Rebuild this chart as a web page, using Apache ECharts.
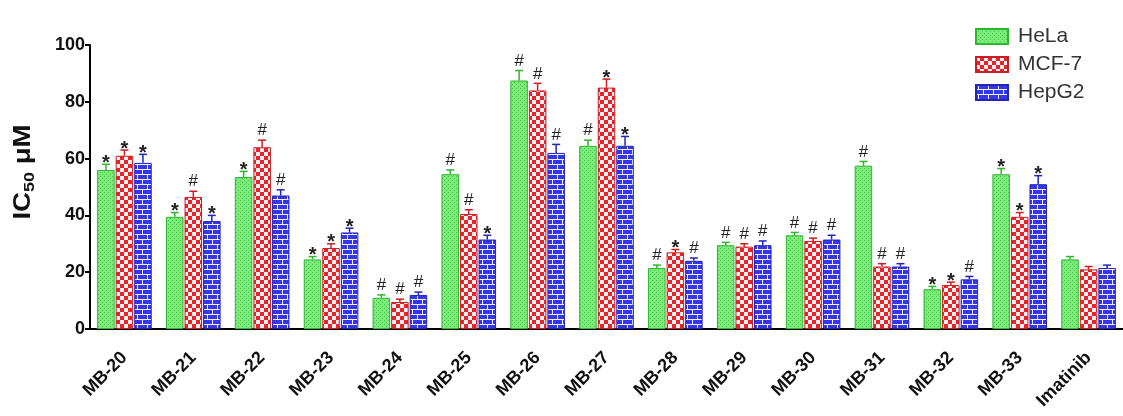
<!DOCTYPE html>
<html>
<head>
<meta charset="utf-8">
<script src="https://cdn.jsdelivr.net/npm/echarts@6/dist/echarts.min.js"></script>
<style>
  html, body { margin: 0; padding: 0; background: #fff; }
  #chart { width: 1123px; height: 416px; }
</style>
</head>
<body>
<div id="chart"></div>
<script>
// Compounds tested
const categories = ['MB-20', 'MB-21', 'MB-22', 'MB-23', 'MB-24', 'MB-25', 'MB-26', 'MB-27',
  'MB-28', 'MB-29', 'MB-30', 'MB-31', 'MB-32', 'MB-33', 'Imatinib'];

// IC50 (µM) per cell line
const helaValues  = [56, 39.5, 53.5, 24.5, 11, 54.5, 87.5, 64.5, 21.5, 29.5, 33, 57.5, 14, 54.5, 24.5];
const mcf7Values  = [61, 46.5, 64, 28.5, 9.5, 40.5, 84, 85, 27, 29, 31, 22, 15.5, 39.5, 21];
const hepg2Values = [58.5, 38, 47, 34, 12, 31.5, 62, 64.5, 24, 29.5, 31.5, 22, 17.5, 51, 21.5];

// Standard deviations
const helaErr  = [2, 1.5, 2, 1, 1, 1.5, 3.5, 2, 1, 1, 1, 1.5, 1, 2, 1];
const mcf7Err  = [2, 2, 2.5, 1.5, 1, 1.5, 2.5, 3, 1, 1, 1, 1, 1, 1.5, 1];
const hepg2Err = [3, 2, 2, 1.5, 1, 1.5, 3, 3.3, 1, 1.5, 1.5, 1, 1, 3, 1];

// Significance marks
const helaMarks  = ['*', '*', '*', '*', '#', '#', '#', '#', '#', '#', '#', '#', '*', '*', ''];
const mcf7Marks  = ['*', '#', '#', '*', '#', '#', '#', '*', '*', '#', '#', '#', '*', '*', ''];
const hepg2Marks = ['*', '*', '#', '*', '#', '*', '#', '*', '#', '#', '#', '#', '#', '*', ''];

const seriesNames = ['HeLa', 'MCF-7', 'HepG2'];
const yTicks = { min: 0, max: 100, interval: 20 };

const FONT = '"Liberation Sans", Arial, Helvetica, sans-serif';

// ---- fill patterns -------------------------------------------------------
function makeTile(w, h, draw) {
  const c = document.createElement('canvas');
  c.width = w; c.height = h;
  draw(c.getContext('2d'));
  return c;
}
const greenTile = makeTile(4, 4, g => {
  g.fillStyle = '#7ceb7c'; g.fillRect(0, 0, 4, 4);
  g.fillStyle = '#45c845';
  g.fillRect(0, 0, 1, 1); g.fillRect(2, 2, 1, 1);
});
const redTile = makeTile(8, 8, g => {
  g.fillStyle = '#e2262c'; g.fillRect(0, 0, 8, 8);
  g.fillStyle = '#ffeef0';
  g.fillRect(0, 0, 4, 4); g.fillRect(4, 4, 4, 4);
});
const blueTile = makeTile(10, 10, g => {
  g.fillStyle = '#3535ea'; g.fillRect(0, 0, 10, 10);
  g.fillStyle = '#f2f2ff';
  g.fillRect(0, 4, 10, 1); g.fillRect(0, 9, 10, 1);
  g.fillRect(2, 0, 1, 4); g.fillRect(7, 5, 1, 4);
});

const fills   = [greenTile, redTile, blueTile];
const borders = ['#2fb52f', '#c81e24', '#2424b8'];
const values  = [helaValues, mcf7Values, hepg2Values];
const errs    = [helaErr, mcf7Err, hepg2Err];
const marks   = [helaMarks, mcf7Marks, hepg2Marks];

const BAR_W = 17.5;
const BAR_STEP = 18.5;

function barSeries(i) {
  return {
    name: seriesNames[i],
    type: 'bar',
    barWidth: BAR_W,
    barGap: '6%',
    data: values[i],
    itemStyle: {
      color: { image: fills[i], repeat: 'repeat' },
      borderColor: borders[i],
      borderWidth: 1
    },
    emphasis: { disabled: true },
    z: 2
  };
}

function errorSeries(i) {
  const data = values[i].map((v, k) => [k, v, errs[i][k], marks[i][k]]);
  return {
    type: 'custom',
    name: seriesNames[i] + ' err',
    data: data,
    encode: { x: 0, y: 1 },
    z: 5,
    silent: true,
    clip: false,
    renderItem: function (params, api) {
      const k = api.value(0);
      const v = api.value(1);
      const e = api.value(2);
      const m = data[params.dataIndex][3];
      const base = api.coord([k, v]);
      const top = api.coord([k, v + e]);
      const cx = base[0] + (i - 1) * BAR_STEP;
      const children = [
        { type: 'line', shape: { x1: cx, y1: base[1], x2: cx, y2: top[1] },
          style: { stroke: borders[i], lineWidth: 1.5 } },
        { type: 'line', shape: { x1: cx - 4, y1: top[1], x2: cx + 4, y2: top[1] },
          style: { stroke: borders[i], lineWidth: 1.5 } }
      ];
      if (m) {
        const star = m === '*';
        children.push({
          type: 'text',
          x: cx,
          y: top[1] + (star ? 9 : -1),
          style: {
            text: m,
            fill: '#222',
            font: (star ? 'bold 20px ' : '17px ') + FONT,
            align: 'center',
            verticalAlign: 'bottom'
          }
        });
      }
      return { type: 'group', children: children };
    }
  };
}

const chart = echarts.init(document.getElementById('chart'), null, { renderer: 'canvas' });

chart.setOption({
  animation: false,
  backgroundColor: '#ffffff',
  grid: { left: 90, right: -8, top: 45, bottom: 87, containLabel: false },
  legend: {
    orient: 'vertical',
    left: 970,
    top: 21,
    icon: 'rect',
    itemWidth: 32,
    itemHeight: 15,
    itemGap: 7,
    data: seriesNames,
    selectedMode: false,
    textStyle: { fontFamily: FONT, fontSize: 21, color: '#333', padding: [0, 0, 0, 5] }
  },
  xAxis: {
    type: 'category',
    data: categories,
    axisLine: { lineStyle: { color: '#000', width: 2 } },
    axisTick: { alignWithLabel: true, length: 6, lineStyle: { color: '#000', width: 2 } },
    axisLabel: {
      interval: 0, rotate: 45, margin: 26,
      fontFamily: FONT, fontWeight: 'bold', fontSize: 18, color: '#111'
    }
  },
  yAxis: {
    type: 'value',
    min: yTicks.min, max: yTicks.max, interval: yTicks.interval,
    axisLine: { show: true, lineStyle: { color: '#000', width: 2 } },
    axisTick: { show: true, length: 5, lineStyle: { color: '#000', width: 2 } },
    splitLine: { show: false },
    axisLabel: { margin: 5, fontFamily: FONT, fontWeight: 'bold', fontSize: 18, color: '#111' }
  },
  graphic: [{
    type: 'text',
    x: 24,
    y: 172,
    rotation: Math.PI / 2,
    scaleX: 1.2,
    style: {
      text: '{a|IC}{b|50}{a| μM}',
      align: 'center',
      verticalAlign: 'middle',
      rich: {
        a: { fontFamily: FONT, fontWeight: 'bold', fontSize: 23, fill: '#111' },
        b: { fontFamily: FONT, fontWeight: 'bold', fontSize: 15, fill: '#111', padding: [11, 0, 0, 0] }
      }
    }
  }],
  series: [barSeries(0), barSeries(1), barSeries(2), errorSeries(0), errorSeries(1), errorSeries(2)]
});
</script>
</body>
</html>
